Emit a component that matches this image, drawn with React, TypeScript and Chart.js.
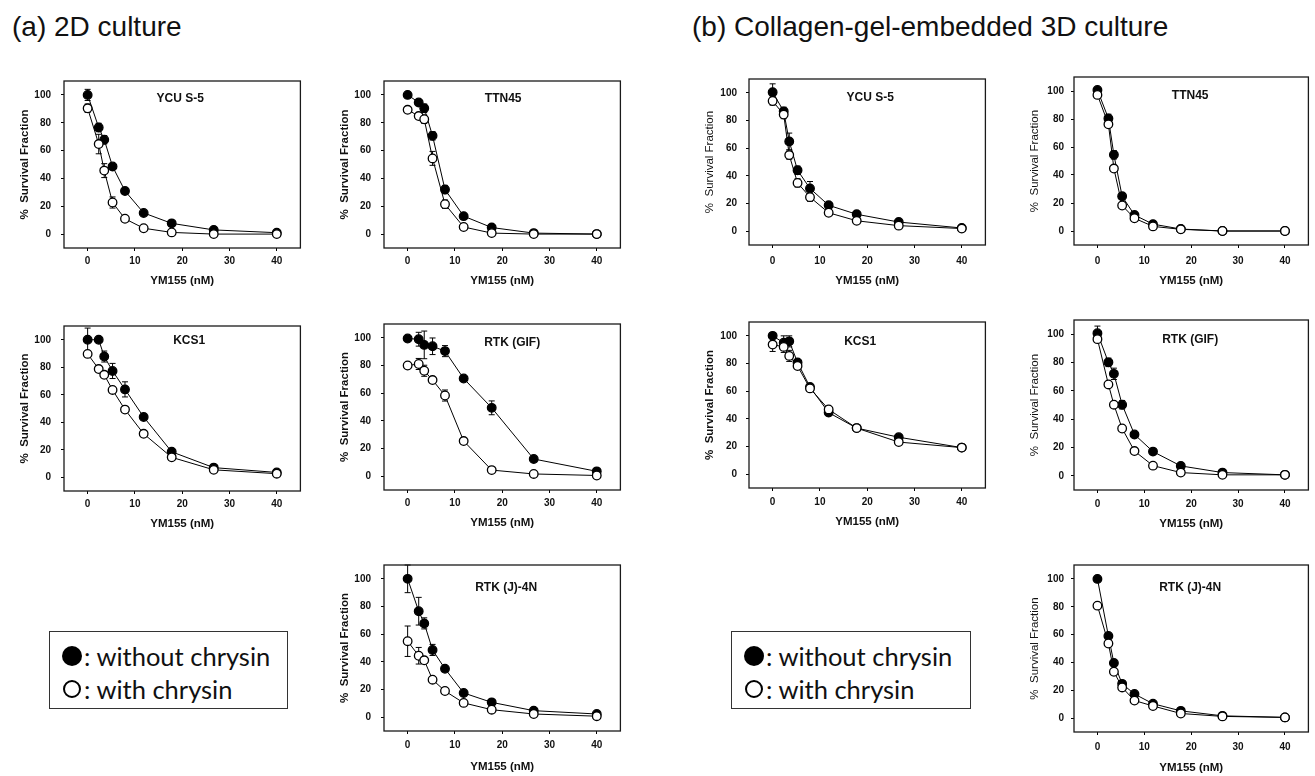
import React, { useEffect, useRef } from "react";
import { Chart, registerables } from "chart.js";

Chart.register(...registerables);

// ---------- data ----------
const DOSES_NM = [0, 2.34, 3.51, 5.27, 7.9, 11.85, 17.78, 26.67, 40];
const X_TICKS = [0, 10, 20, 30, 40];
const Y_TICKS = [0, 20, 40, 60, 80, 100];
const X_TITLE = "YM155 (nM)";
const Y_TITLE = "%  Survival Fraction";
const SERIES_NAMES = ["without chrysin", "with chrysin"];
const HEADER_A = "(a) 2D culture";
const HEADER_B = "(b) Collagen-gel-embedded 3D culture";

// (a) 2D culture
const A_YCUS5_WITHOUT = [100, 76.6, 67.8, 48.6, 31, 15.2, 7.7, 3, 1];
const A_YCUS5_WITH = [90.4, 64.7, 45.6, 22.7, 11, 4.2, 1.2, 0, 0];
const A_YCUS5_ERR_WITHOUT = [4, 3, 3, 2, 2, 1, 1, 1, 1];
const A_YCUS5_ERR_WITH = [3, 7, 5, 4, 2, 1, 1, 0, 0];

const A_TTN45_WITHOUT = [100, 94.6, 90.4, 70.6, 32, 12.9, 4.7, 0.7, 0];
const A_TTN45_WITH = [89.3, 84.8, 82.5, 54.4, 21.5, 5.1, 0.7, 0, 0];
const A_TTN45_ERR_WITHOUT = [2, 2, 3, 3, 3, 1, 1, 0, 0];
const A_TTN45_ERR_WITH = [2, 2, 3, 5, 3, 1, 0, 0, 0];

const A_KCS1_WITHOUT = [100, 100, 87.8, 77.3, 63.9, 43.8, 18.5, 7, 3.5];
const A_KCS1_WITH = [89.7, 78.7, 74.5, 63.5, 49.2, 31.6, 14.5, 5.4, 2.6];
const A_KCS1_ERR_WITHOUT = [8.5, 2, 4, 5.5, 5.5, 2, 2, 1, 1];
const A_KCS1_ERR_WITH = [2, 2, 2, 2, 2, 2, 2, 1, 1];

const A_RTKGIF_WITHOUT = [99.5, 99, 94.9, 93.9, 90.4, 70.6, 49.4, 12.4, 3.5];
const A_RTKGIF_WITH = [80, 81.1, 76.2, 69.5, 58.3, 25.4, 4.4, 1.6, 0.5];
const A_RTKGIF_ERR_WITHOUT = [2, 5, 10, 6, 4, 2, 5, 2, 1];
const A_RTKGIF_ERR_WITH = [2, 4, 4, 2, 4, 2, 1, 1, 1];

const A_RTKJ4N_WITHOUT = [100, 76.6, 67.8, 48.6, 35, 17.5, 10.7, 4.7, 2.3];
const A_RTKJ4N_WITH = [54.9, 44.4, 41.1, 27.1, 18.9, 10.3, 5.4, 2.3, 0.7];
const A_RTKJ4N_ERR_WITHOUT = [10, 10, 4, 4, 2, 2, 2, 1, 1];
const A_RTKJ4N_ERR_WITH = [11, 6, 2, 2, 2, 2, 1, 1, 1];

// (b) Collagen-gel-embedded 3D culture
const B_YCUS5_WITHOUT = [100.5, 86.6, 64.9, 44, 30.9, 18.7, 12.2, 6.6, 2.3];
const B_YCUS5_WITH = [94.1, 84.3, 55, 34.9, 24.6, 13.3, 7.5, 4, 1.9];
const B_YCUS5_ERR_WITHOUT = [6, 3, 6, 3, 5, 2, 2, 1, 1];
const B_YCUS5_ERR_WITH = [3, 3, 3, 3, 3, 2, 1, 1, 1];

const B_TTN45_WITHOUT = [100.7, 80.4, 54.4, 24.8, 11.4, 4.9, 1.4, 0, 0];
const B_TTN45_WITH = [97.2, 76.2, 44.6, 18.2, 9.1, 3.3, 1.2, 0, 0];
const B_TTN45_ERR_WITHOUT = [2, 3, 3, 2, 2, 1, 1, 0, 0];
const B_TTN45_ERR_WITH = [2, 2, 2, 2, 2, 1, 1, 0, 0];

const B_KCS1_WITHOUT = [100, 95, 96, 80.8, 63, 44.5, 33.3, 26.7, 19.2];
const B_KCS1_WITH = [93.7, 92, 85.5, 78.2, 62, 46.8, 33.3, 23.2, 19.2];
const B_KCS1_ERR_WITHOUT = [2, 5, 4, 2, 2, 2, 2, 2, 1];
const B_KCS1_ERR_WITH = [5, 4, 4, 2, 2, 2, 2, 1, 1];

const B_RTKGIF_WITHOUT = [100.7, 80.1, 72, 50.2, 29.2, 17.1, 7, 2.3, 0.7];
const B_RTKGIF_WITH = [96.5, 64.5, 50.2, 33.4, 17.5, 7.2, 2.3, 0.7, 0.7];
const B_RTKGIF_ERR_WITHOUT = [5, 3, 4, 3, 2, 2, 2, 1, 1];
const B_RTKGIF_ERR_WITH = [2, 2, 2, 2, 2, 1, 1, 1, 1];

const B_RTKJ4N_WITHOUT = [100, 59, 39.6, 24.6, 17.3, 10.3, 5.2, 1.6, 0.5];
const B_RTKJ4N_WITH = [80.8, 53.6, 33.3, 22, 12.6, 8.7, 3.3, 1.2, 0.5];
const B_RTKJ4N_ERR_WITHOUT = [2, 2, 2, 2, 2, 1, 1, 1, 0];
const B_RTKJ4N_ERR_WITH = [2, 2, 2, 2, 2, 1, 1, 1, 0];

// ---------- style / layout ----------
const FONT = "'Liberation Sans', Arial, Helvetica, sans-serif";
const W_AXIS = 64;
const H_AXIS = 48;
const PAD_TOP = 10;
const PAD_RIGHT = 4;
const TICK_LEN = 3;
const TICK_SIZE = 10;

type PanelCfg = {
  box: [number, number, number, number];
  title: string;
  titleDx: number;
  titleDy: number;
  without: number[];
  withC: number[];
  errWithout: number[];
  errWith: number[];
  yLabelGap: number;
  xLabelGap: number;
  xTitleGap: number;
  yTitleBold: boolean;
};

const PANELS: PanelCfg[] = [
  { box: [64, 75, 302, 248], title: "YCU S-5", titleDx: -2, titleDy: 18, without: A_YCUS5_WITHOUT, withC: A_YCUS5_WITH, errWithout: A_YCUS5_ERR_WITHOUT, errWith: A_YCUS5_ERR_WITH, yLabelGap: 13, xLabelGap: 13, xTitleGap: 33, yTitleBold: true },
  { box: [384, 75, 622, 248], title: "TTN45", titleDx: 1, titleDy: 18, without: A_TTN45_WITHOUT, withC: A_TTN45_WITH, errWithout: A_TTN45_ERR_WITHOUT, errWith: A_TTN45_ERR_WITH, yLabelGap: 13, xLabelGap: 13, xTitleGap: 33, yTitleBold: true },
  { box: [64, 320, 302, 491], title: "KCS1", titleDx: 7, titleDy: 15, without: A_KCS1_WITHOUT, withC: A_KCS1_WITH, errWithout: A_KCS1_ERR_WITHOUT, errWith: A_KCS1_ERR_WITH, yLabelGap: 13, xLabelGap: 13, xTitleGap: 33, yTitleBold: true },
  { box: [384, 318, 622, 490], title: "RTK (GIF)", titleDx: 10, titleDy: 19, without: A_RTKGIF_WITHOUT, withC: A_RTKGIF_WITH, errWithout: A_RTKGIF_ERR_WITHOUT, errWith: A_RTKGIF_ERR_WITH, yLabelGap: 13, xLabelGap: 13, xTitleGap: 33, yTitleBold: true },
  { box: [384, 559, 622, 731], title: "RTK (J)-4N", titleDx: 4, titleDy: 23, without: A_RTKJ4N_WITHOUT, withC: A_RTKJ4N_WITH, errWithout: A_RTKJ4N_ERR_WITHOUT, errWith: A_RTKJ4N_ERR_WITH, yLabelGap: 13, xLabelGap: 14, xTitleGap: 36, yTitleBold: true },
  { box: [749, 74, 987, 245], title: "YCU S-5", titleDx: 3, titleDy: 19, without: B_YCUS5_WITHOUT, withC: B_YCUS5_WITH, errWithout: B_YCUS5_ERR_WITHOUT, errWith: B_YCUS5_ERR_WITH, yLabelGap: 12, xLabelGap: 16, xTitleGap: 36, yTitleBold: false },
  { box: [1074, 74, 1310, 245], title: "TTN45", titleDx: -1, titleDy: 19, without: B_TTN45_WITHOUT, withC: B_TTN45_WITH, errWithout: B_TTN45_ERR_WITHOUT, errWith: B_TTN45_ERR_WITH, yLabelGap: 10, xLabelGap: 16, xTitleGap: 36, yTitleBold: false },
  { box: [749, 317, 987, 488], title: "KCS1", titleDx: -7, titleDy: 20, without: B_KCS1_WITHOUT, withC: B_KCS1_WITH, errWithout: B_KCS1_ERR_WITHOUT, errWith: B_KCS1_ERR_WITH, yLabelGap: 12, xLabelGap: 14, xTitleGap: 34, yTitleBold: true },
  { box: [1074, 317, 1310, 490], title: "RTK (GIF)", titleDx: -1, titleDy: 20, without: B_RTKGIF_WITHOUT, withC: B_RTKGIF_WITH, errWithout: B_RTKGIF_ERR_WITHOUT, errWith: B_RTKGIF_ERR_WITH, yLabelGap: 10, xLabelGap: 14, xTitleGap: 34, yTitleBold: false },
  { box: [1074, 562, 1310, 732], title: "RTK (J)-4N", titleDx: -1, titleDy: 23, without: B_RTKJ4N_WITHOUT, withC: B_RTKJ4N_WITH, errWithout: B_RTKJ4N_ERR_WITHOUT, errWith: B_RTKJ4N_ERR_WITH, yLabelGap: 10, xLabelGap: 15, xTitleGap: 36, yTitleBold: false },
];

const decorPlugin = {
  id: "panelDecor",
  beforeDatasetsDraw(chart: any, _args: any, opts: any) {
    const ctx = chart.ctx;
    const ys = chart.scales.y;
    ctx.save();
    ctx.strokeStyle = "#000";
    ctx.lineWidth = 1;
    chart.data.datasets.forEach((ds: any, d: number) => {
      const meta = chart.getDatasetMeta(d);
      const errs: number[] = opts.errors[d] || [];
      meta.data.forEach((pt: any, i: number) => {
        const e = errs[i] || 0;
        if (!e) return;
        const v = ds.data[i].y;
        const yt = ys.getPixelForValue(v + e);
        const yb = ys.getPixelForValue(v - e);
        const x = pt.x;
        ctx.beginPath();
        ctx.moveTo(x, yt);
        ctx.lineTo(x, yb);
        ctx.moveTo(x - 3, yt);
        ctx.lineTo(x + 3, yt);
        ctx.moveTo(x - 3, yb);
        ctx.lineTo(x + 3, yb);
        ctx.stroke();
      });
    });
    ctx.restore();
  },
  afterDraw(chart: any, _args: any, opts: any) {
    const ctx = chart.ctx;
    const a = chart.chartArea;
    ctx.save();
    ctx.strokeStyle = "#1a1a1a";
    ctx.lineWidth = 1.3;
    ctx.strokeRect(a.left, a.top, a.right - a.left, a.bottom - a.top);
    ctx.fillStyle = "#111";
    ctx.font = `bold 12px ${FONT}`;
    ctx.textAlign = "center";
    ctx.textBaseline = "middle";
    ctx.fillText(opts.title, (a.left + a.right) / 2 + opts.titleDx, a.top + opts.titleDy);
    ctx.restore();
  },
};

function Panel({ cfg }: { cfg: PanelCfg }) {
  const ref = useRef<HTMLCanvasElement>(null);
  const [l, t, r, b] = cfg.box;
  const cw = r - l + W_AXIS + PAD_RIGHT;
  const ch = b - t + PAD_TOP + H_AXIS;

  useEffect(() => {
    if (!ref.current) return;
    const tickFont = { family: FONT, size: TICK_SIZE, weight: "bold" as const, lineHeight: 1.2 };
    const titleSize = 11.5;
    const titleLH = titleSize * 1.2;
    const chart = new Chart(ref.current, {
      type: "line",
      data: {
        datasets: [
          {
            label: SERIES_NAMES[1],
            data: DOSES_NM.map((x, i) => ({ x, y: cfg.withC[i] })),
            borderColor: "#000",
            borderWidth: 1,
            pointRadius: 4.3,
            pointBackgroundColor: "#fff",
            pointBorderColor: "#000",
            pointBorderWidth: 1.3,
            tension: 0,
          },
          {
            label: SERIES_NAMES[0],
            data: DOSES_NM.map((x, i) => ({ x, y: cfg.without[i] })),
            borderColor: "#000",
            borderWidth: 1,
            pointRadius: 4.3,
            pointBackgroundColor: "#000",
            pointBorderColor: "#000",
            pointBorderWidth: 1.3,
            tension: 0,
          },
        ],
      },
      options: {
        animation: false,
        responsive: false,
        devicePixelRatio: 1,
        layout: { padding: { top: PAD_TOP, right: PAD_RIGHT, left: 0, bottom: 0 } },
        plugins: {
          legend: { display: false },
          tooltip: { enabled: false },
          title: { display: false },
          panelDecor: {
            errors: [cfg.errWith, cfg.errWithout],
            title: cfg.title,
            titleDx: cfg.titleDx,
            titleDy: cfg.titleDy,
          },
        } as any,
        scales: {
          x: {
            type: "linear",
            min: -5,
            max: 45,
            afterBuildTicks: (s: any) => {
              s.ticks = X_TICKS.map((v) => ({ value: v }));
            },
            afterFit: (s: any) => {
              s.height = H_AXIS;
            },
            grid: { display: true, drawOnChartArea: false, drawTicks: true, tickLength: TICK_LEN, color: "#000", lineWidth: 1 },
            border: { display: false },
            ticks: { font: tickFont, color: "#111", padding: cfg.xLabelGap - TICK_LEN - (TICK_SIZE * 1.2) / 2, maxRotation: 0, autoSkip: false },
            title: {
              display: true,
              text: X_TITLE,
              color: "#111",
              font: { family: FONT, size: titleSize, weight: "bold", lineHeight: 1.2 },
              padding: { top: 0, bottom: H_AXIS - cfg.xTitleGap - titleLH / 2 },
            },
          },
          y: {
            type: "linear",
            min: -10,
            max: 110,
            afterBuildTicks: (s: any) => {
              s.ticks = Y_TICKS.map((v) => ({ value: v }));
            },
            afterFit: (s: any) => {
              s.width = W_AXIS;
            },
            grid: { display: true, drawOnChartArea: false, drawTicks: true, tickLength: TICK_LEN, color: "#000", lineWidth: 1 },
            border: { display: false },
            ticks: { font: tickFont, color: "#111", padding: cfg.yLabelGap - TICK_LEN, autoSkip: false },
            title: {
              display: true,
              text: Y_TITLE,
              color: "#111",
              font: { family: FONT, size: titleSize, weight: cfg.yTitleBold ? "bold" : "normal", lineHeight: 1.2 },
              padding: { top: W_AXIS - 39 - titleLH / 2, bottom: 0 },
            },
          },
        },
      },
      plugins: [decorPlugin],
    } as any);
    return () => chart.destroy();
  }, [cfg]);

  return (
    <canvas
      ref={ref}
      width={cw}
      height={ch}
      style={{ position: "absolute", left: l - W_AXIS, top: t - PAD_TOP, width: cw, height: ch }}
    />
  );
}

function Legend({ left, top, width, height }: { left: number; top: number; width: number; height: number }) {
  const txt: React.CSSProperties = {
    fontFamily: "Lato, 'Open Sans', sans-serif",
    fontSize: 25.5,
    color: "#111",
    lineHeight: "30px",
    whiteSpace: "nowrap",
  };
  return (
    <div
      style={{
        position: "absolute",
        left,
        top,
        width,
        height,
        border: "1.5px solid #333",
        boxSizing: "border-box",
        background: "#fff",
      }}
    >
      <div style={{ position: "absolute", left: 12, top: 9, display: "flex", alignItems: "center", ...txt }}>
        <span style={{ display: "inline-block", width: 20, height: 20, borderRadius: "50%", background: "#000", marginRight: 2 }} />
        <span>: {SERIES_NAMES[0]}</span>
      </div>
      <div style={{ position: "absolute", left: 13, top: 42, display: "flex", alignItems: "center", ...txt }}>
        <span style={{ display: "inline-block", width: 18, height: 18, boxSizing: "border-box", borderRadius: "50%", border: "2px solid #000", background: "#fff", marginRight: 3 }} />
        <span>: {SERIES_NAMES[1]}</span>
      </div>
    </div>
  );
}

export default function App() {
  const header: React.CSSProperties = {
    position: "absolute",
    top: 13,
    fontFamily: FONT,
    fontSize: 28,
    lineHeight: 1,
    color: "#111",
    whiteSpace: "nowrap",
  };
  return (
    <div style={{ position: "absolute", left: 0, top: 0, width: 1315, height: 776, overflow: "hidden", background: "#fff" }}>
      <div style={{ ...header, left: 12 }}>{HEADER_A}</div>
      <div style={{ ...header, left: 692 }}>{HEADER_B}</div>
      {PANELS.map((p, i) => (
        <Panel key={i} cfg={p} />
      ))}
      <Legend left={49} top={631} width={239} height={78} />
      <Legend left={731} top={631} width={240} height={78} />
    </div>
  );
}
